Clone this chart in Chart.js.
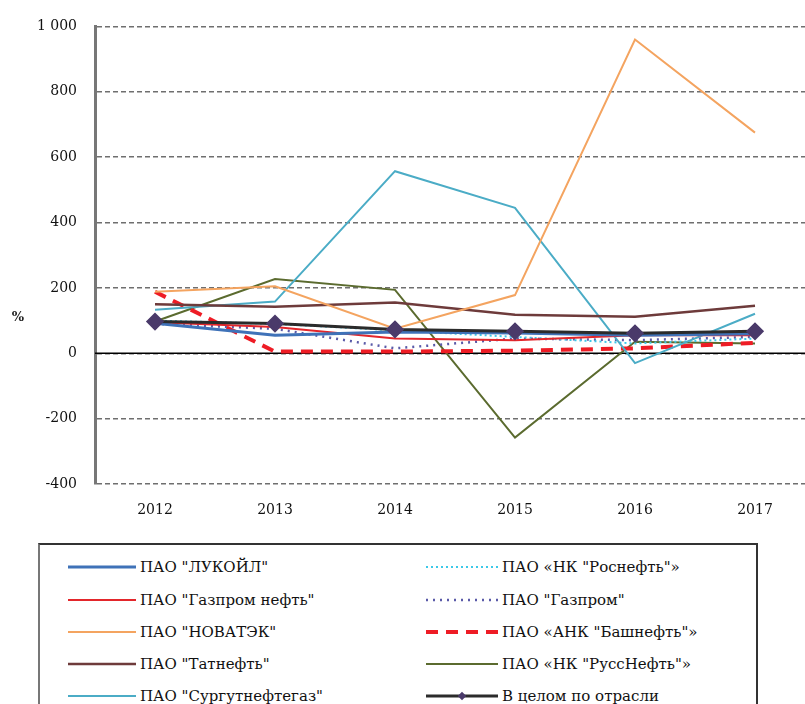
<!DOCTYPE html>
<html>
<head>
<meta charset="utf-8">
<script src="https://cdn.jsdelivr.net/npm/chart.js@4"></script>
<style>
  html, body { margin: 0; padding: 0; background: #fff; overflow: hidden; width: 805px; height: 704px; }
  #wrap { position: absolute; left: 0; top: 0; width: 830px; height: 530px; }
  #legend { position: absolute; left: 38px; top: 543px; width: 720px; height: 200px;
            border: 2px solid #333; border-left-color: #777; box-sizing: border-box;
            font-family: "DejaVu Serif", "Liberation Serif", serif; font-size: 15px; color: #111; }
  .item { position: absolute; height: 20px; line-height: 20px; white-space: nowrap; }
  .item svg { position: absolute; left: 0; top: 0; }
  .item span { position: absolute; top: 0; }
</style>
</head>
<body>
<div id="wrap"><canvas id="chart" width="830" height="530"></canvas></div>
<div id="legend"></div>
<script>
// годы
var years = ['2012', '2013', '2014', '2015', '2016', '2017'];

// рентабельность, %
var lukoil      = [92, 55, 65, 62, 55, 60];
var gazpromNeft = [95, 80, 45, 40, 55, 55];
var novatek     = [188, 205, 75, 178, 960, 675];
var tatneft     = [150, 142, 155, 118, 112, 145];
var surgut      = [133, 158, 557, 445, -30, 121];
var rosneft     = [100, 90, 70, 50, 30, 45];
var gazprom     = [90, 75, 15, 45, 40, 50];
var bashneft    = [188, 5, 5, 8, 15, 32];
var russneft    = [97, 227, 194, -258, 35, 30];
var total       = [97, 91, 73, 67, 61, 67];

var yTicks = [-400, -200, 0, 200, 400, 600, 800, 1000];

var names = [
  'ПАО "ЛУКОЙЛ"', 'ПАО "Газпром нефть"', 'ПАО "НОВАТЭК"', 'ПАО "Татнефть"', 'ПАО "Сургутнефтегаз"',
  'ПАО «НК "Роснефть"»', 'ПАО "Газпром"', 'ПАО «АНК "Башнефть"»', 'ПАО «НК "РуссНефть"»', 'В целом по отрасли'
];

var serif = '"DejaVu Serif", "Liberation Serif", serif';

function line(label, data, color, width, dash, extra) {
  var ds = {
    label: label, data: data, borderColor: color, backgroundColor: color,
    borderWidth: width, borderDash: dash || [], pointRadius: 0, tension: 0, fill: false
  };
  for (var k in extra) ds[k] = extra[k];
  return ds;
}

var datasets = [
  line(names[0], lukoil, '#3f72b8', 3),
  line(names[1], gazpromNeft, '#e3262b', 2),
  line(names[2], novatek, '#f4a460', 2),
  line(names[3], tatneft, '#6e3b3b', 2.5),
  line(names[4], surgut, '#4bacc6', 2),
  line(names[5], rosneft, '#3cc8e8', 2, [2, 3]),
  line(names[6], gazprom, '#5a5aa8', 2.5, [2, 5]),
  line(names[7], bashneft, '#ee1c25', 4, [12, 8]),
  line(names[8], russneft, '#5b6b2f', 2),
  line(names[9], total, '#2b2b2b', 3, [], {
    pointRadius: 7, pointStyle: 'rectRot', pointBackgroundColor: '#4a3a6a',
    pointBorderColor: '#4a3a6a', order: -1
  })
];

var extras = {
  id: 'extras',
  beforeDatasetsDraw: function(chart) {
    // сплошная линия нуля
    var ctx = chart.ctx, y = chart.scales.y, a = chart.chartArea;
    var y0 = y.getPixelForValue(0);
    ctx.save();
    ctx.strokeStyle = '#000';
    ctx.lineWidth = 1.5;
    ctx.setLineDash([]);
    ctx.beginPath();
    ctx.moveTo(a.left, y0);
    ctx.lineTo(a.right, y0);
    ctx.stroke();
    ctx.restore();
  },
  afterDraw: function(chart) {
    var ctx = chart.ctx;
    ctx.save();
    ctx.fillStyle = '#222';
    ctx.font = 'bold 13px ' + serif;
    ctx.textAlign = 'center';
    ctx.textBaseline = 'middle';
    ctx.fillText('%', 18, 318);
    ctx.restore();
  }
};

new Chart(document.getElementById('chart'), {
  type: 'line',
  data: { labels: years, datasets: datasets },
  plugins: [extras],
  options: {
    responsive: false,
    animation: false,
    layout: { padding: { top: 21, right: 15, left: 0, bottom: 0 } },
    plugins: { legend: { display: false }, tooltip: { enabled: false } },
    scales: {
      x: {
        offset: true,
        grid: { display: false },
        border: { display: false },
        ticks: { color: '#111', font: { family: serif, size: 14 }, padding: 10 },
        afterFit: function(s) { s.height = 46; }
      },
      y: {
        min: -400, max: 1000,
        afterBuildTicks: function(s) { s.ticks = yTicks.map(function(v) { return { value: v }; }); },
        grid: { color: '#6f6f6f', lineWidth: 1.5, drawTicks: false },
        border: { display: true, color: '#777', width: 3, dash: [5, 3] },
        ticks: {
          color: '#111', padding: 18,
          font: { family: serif, size: 14 },
          callback: function(v) { return v === 1000 ? '1 000' : String(v); }
        },
        afterFit: function(s) { s.width = 95; }
      }
    }
  }
});

// легенда в две колонки
var leg = document.getElementById('legend');
var rows = [12, 45, 77, 109, 141];
datasets.forEach(function(ds, i) {
  var col = i < 5 ? 0 : 1;
  var row = i % 5;
  var x0 = col === 0 ? 28 : 386;
  var item = document.createElement('div');
  item.className = 'item';
  item.style.left = x0 + 'px';
  item.style.top = rows[row] + 'px';
  var sw = col === 0 ? 68 : 72;
  var dash = ds.borderDash.length ? ' stroke-dasharray="' + ds.borderDash.join(',') + '"' : '';
  var svg = '<svg width="' + sw + '" height="20"><line x1="0" y1="10" x2="' + sw + '" y2="10" stroke="' +
    ds.borderColor + '" stroke-width="' + ds.borderWidth + '"' + dash + '/>';
  if (ds.pointRadius) {
    svg += '<rect x="' + (sw / 2 - 3) + '" y="7" width="6" height="6" fill="' + ds.pointBackgroundColor +
      '" transform="rotate(45 ' + sw / 2 + ' 10)"/>';
  }
  svg += '</svg>';
  item.innerHTML = svg + '<span style="left:' + (sw + 4) + 'px">' + ds.label + '</span>';
  leg.appendChild(item);
});
</script>
</body>
</html>
